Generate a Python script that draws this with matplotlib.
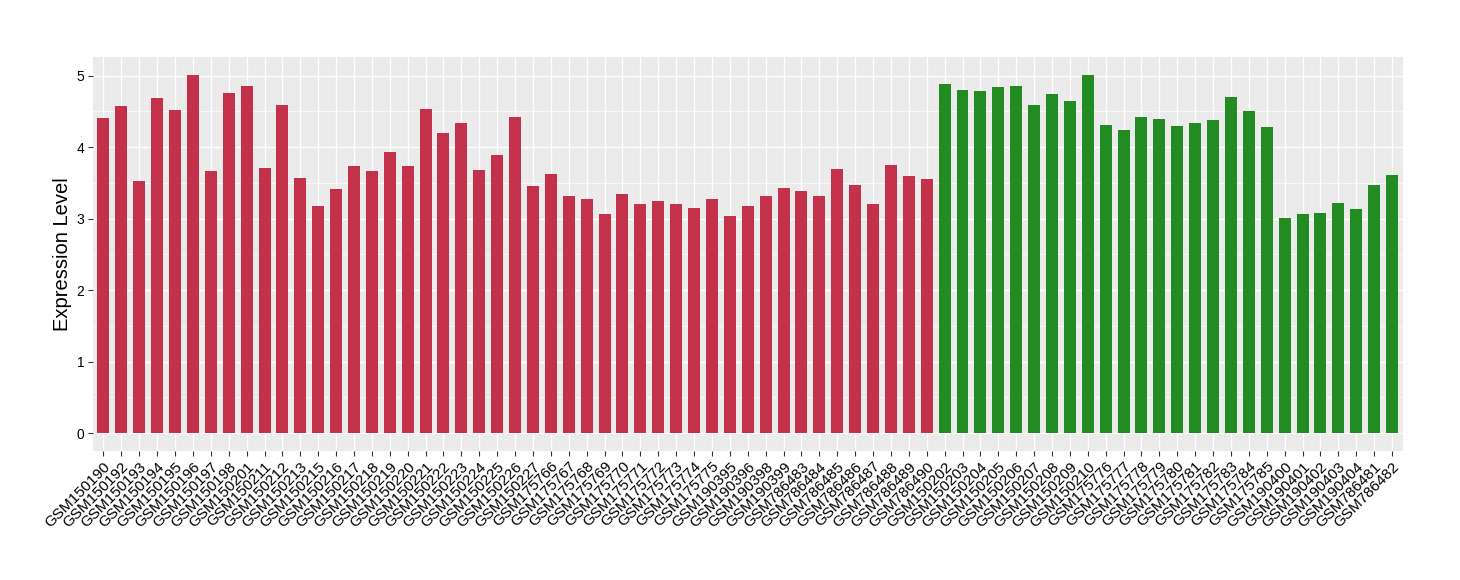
import numpy as np
import matplotlib
matplotlib.use('Agg')
import matplotlib.pyplot as plt
from matplotlib.ticker import MultipleLocator


## sample names, split into the two groups
red_samples = ['GSM150190', 'GSM150192', 'GSM150193', 'GSM150194', 'GSM150195',
               'GSM150196', 'GSM150197', 'GSM150198', 'GSM150201', 'GSM150211',
               'GSM150212', 'GSM150213', 'GSM150215', 'GSM150216', 'GSM150217',
               'GSM150218', 'GSM150219', 'GSM150220', 'GSM150221', 'GSM150222',
               'GSM150223', 'GSM150224', 'GSM150225', 'GSM150226', 'GSM150227',
               'GSM175766', 'GSM175767', 'GSM175768', 'GSM175769', 'GSM175770',
               'GSM175771', 'GSM175772', 'GSM175773', 'GSM175774', 'GSM175775',
               'GSM190395', 'GSM190396', 'GSM190398', 'GSM190399', 'GSM786483',
               'GSM786484', 'GSM786485', 'GSM786486', 'GSM786487', 'GSM786488',
               'GSM786489', 'GSM786490']
red_values = [4.41, 4.58, 3.52, 4.69, 4.52, 5.01, 3.66, 4.76, 4.86, 3.71,
              4.59, 3.57, 3.17, 3.42, 3.74, 3.66, 3.93, 3.74, 4.53, 4.20,
              4.34, 3.68, 3.89, 4.42, 3.45, 3.63, 3.32, 3.27, 3.06, 3.35,
              3.20, 3.24, 3.21, 3.15, 3.27, 3.04, 3.18, 3.31, 3.43, 3.39,
              3.31, 3.70, 3.47, 3.21, 3.75, 3.60, 3.56]

green_samples = ['GSM150202', 'GSM150203', 'GSM150204', 'GSM150205', 'GSM150206',
                 'GSM150207', 'GSM150208', 'GSM150209', 'GSM150210', 'GSM175776',
                 'GSM175777', 'GSM175778', 'GSM175779', 'GSM175780', 'GSM175781',
                 'GSM175782', 'GSM175783', 'GSM175784', 'GSM175785', 'GSM190400',
                 'GSM190401', 'GSM190402', 'GSM190403', 'GSM190404', 'GSM786481',
                 'GSM786482']
green_values = [4.88, 4.80, 4.79, 4.84, 4.86, 4.59, 4.74, 4.65, 5.01, 4.31,
                4.24, 4.42, 4.40, 4.30, 4.34, 4.38, 4.70, 4.51, 4.28, 3.01,
                3.07, 3.08, 3.22, 3.13, 3.47, 3.61]

red_color = '#C3314A'
green_color = '#228B22'


def main():
    plt.rcParams['font.family'] = ['Liberation Sans', 'DejaVu Sans']

    samples = red_samples + green_samples
    values = red_values + green_values
    colors = [red_color] * len(red_samples) + [green_color] * len(green_samples)
    x = np.arange(1, len(samples) + 1)

    fig = plt.figure(figsize=(14.6, 5.8), dpi=100)
    ax = fig.add_axes([0.0635, 0.2224, 0.8973, 0.6798])

    ## ggplot-ish grey panel with white grid
    ax.set_facecolor('#EBEBEB')
    ax.set_axisbelow(True)
    ax.yaxis.set_major_locator(MultipleLocator(1))
    ax.yaxis.set_minor_locator(MultipleLocator(0.5))
    ax.grid(which='major', axis='both', color='white', linewidth=1.0)
    ax.grid(which='minor', axis='y', color='white', linewidth=0.5)
    for spine in ax.spines.values():
        spine.set_visible(False)

    ax.bar(x, values, width=0.67, color=colors)

    ax.set_xlim(0.4, len(samples) + 0.6)
    ax.set_ylim(-0.252, 5.266)

    ax.set_xticks(x)
    ax.set_xticklabels(samples, rotation=45, ha='right', va='top',
                       rotation_mode='anchor', fontsize=11)
    ax.tick_params(axis='both', which='major', length=3.5, width=0.8,
                   color='#333333', labelcolor='black', pad=2.5)
    ax.tick_params(axis='y', which='minor', length=0)
    ax.tick_params(axis='y', labelsize=10)

    ax.set_ylabel('Expression Level', fontsize=14.5, labelpad=3)

    plt.savefig('out.png', dpi=100)


if __name__ == "__main__":
    main()
